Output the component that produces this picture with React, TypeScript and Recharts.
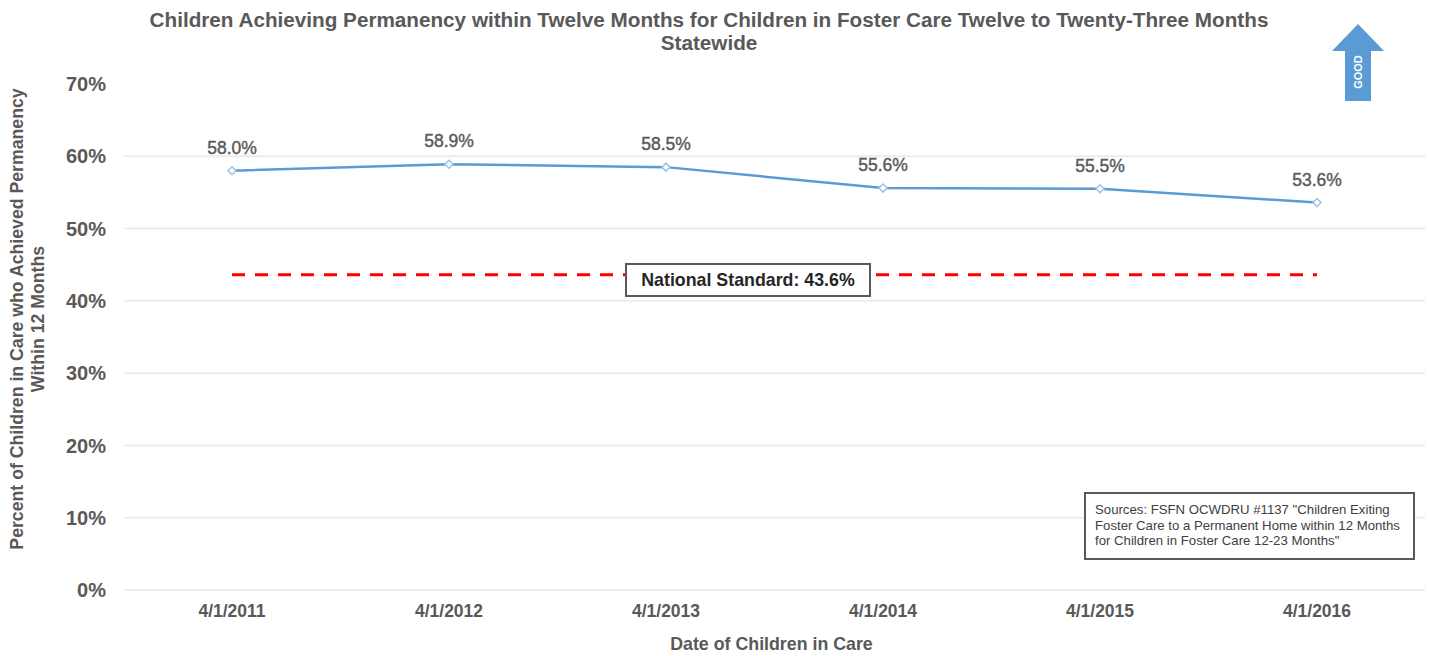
import { LineChart, Line, XAxis, YAxis, CartesianGrid, LabelList } from 'recharts';

const dates = ['4/1/2011', '4/1/2012', '4/1/2013', '4/1/2014', '4/1/2015', '4/1/2016'];
const permanency = [58.0, 58.9, 58.5, 55.6, 55.5, 53.6];
const nationalStandard = [43.6, 43.6, 43.6, 43.6, 43.6, 43.6];
const yTicks = [0, 10, 20, 30, 40, 50, 60, 70];
const gridLines = [0, 10, 20, 30, 40, 50, 60];

const chartData = dates.map((date, i) => ({
  date,
  permanency: permanency[i],
  standard: nationalStandard[i],
}));

const FONT = '"Liberation Sans", Arial, sans-serif';
const GRAY = '#595959';

// small hollow diamond used by the blue line
function Diamond({ cx, cy }: any) {
  const r = 4;
  return (
    <path
      d={`M${cx},${cy - r}L${cx + r},${cy}L${cx},${cy + r}L${cx - r},${cy}Z`}
      fill="#ffffff"
      stroke="#9dc3e6"
      strokeWidth={1.5}
    />
  );
}

export default function App() {
  return (
    <div style={{ position: 'absolute', left: 0, top: 0, width: 1429, height: 656, background: '#fff', fontFamily: FONT, overflow: 'hidden' }}>
      <LineChart
        width={1429}
        height={656}
        data={chartData}
        margin={{ top: 84, right: 4, bottom: 0, left: 0 }}
      >
        <CartesianGrid stroke="#ececec" strokeWidth={2} vertical={false} horizontalValues={gridLines} />
        <XAxis
          dataKey="date"
          height={66}
          padding={{ left: 108, right: 108 }}
          axisLine={false}
          tickLine={false}
          tickSize={0}
          tickMargin={15}
          tick={{ fill: GRAY, fontSize: 17.5, fontWeight: 700, fontFamily: FONT }}
          label={{ value: 'Date of Children in Care', position: 'insideBottom', offset: 6, dx: -3, fill: GRAY, fontSize: 17.8, fontWeight: 700, fontFamily: FONT }}
        />
        <YAxis
          width={124}
          domain={[0, 70]}
          ticks={yTicks}
          axisLine={false}
          tickLine={false}
          tickSize={0}
          tickMargin={18}
          tickFormatter={(v) => `${v}%`}
          tick={{ fill: GRAY, fontSize: 20, fontWeight: 700, fontFamily: FONT }}
        />
        <Line
          dataKey="standard"
          stroke="#ff0000"
          strokeWidth={3}
          strokeDasharray="13 10"
          dot={false}
          activeDot={false}
          isAnimationActive={false}
        />
        <Line
          dataKey="permanency"
          stroke="#5b9bd5"
          strokeWidth={2.5}
          dot={<Diamond />}
          activeDot={false}
          isAnimationActive={false}
        >
          <LabelList
            dataKey="permanency"
            position="top"
            offset={17}
            formatter={(v: any) => `${Number(v).toFixed(1)}%`}
            style={{ fill: GRAY, fontSize: 17.5, fontWeight: 400, stroke: GRAY, strokeWidth: 0.4, fontFamily: FONT }}
          />
        </Line>
      </LineChart>

      {/* title */}
      <div style={{ position: 'absolute', left: 0, top: 8, width: 1418, textAlign: 'center', color: GRAY, fontSize: 20.7, fontWeight: 700, lineHeight: '23px', whiteSpace: 'nowrap' }}>
        Children Achieving Permanency within Twelve Months for Children in Foster Care Twelve to Twenty-Three Months
        <br />
        Statewide
      </div>

      {/* y axis title, two lines */}
      <svg width={60} height={656} style={{ position: 'absolute', left: 0, top: 0 }}>
        <text transform="translate(23,319) rotate(-90)" textAnchor="middle" fill={GRAY} fontSize={17.7} fontWeight={700} fontFamily={FONT}>
          Percent of Children in Care who Achieved Permanency
        </text>
        <text transform="translate(44,319) rotate(-90)" textAnchor="middle" fill={GRAY} fontSize={17.7} fontWeight={700} fontFamily={FONT}>
          Within 12 Months
        </text>
      </svg>

      {/* good arrow */}
      <svg width={60} height={90} style={{ position: 'absolute', left: 1328, top: 20 }}>
        <path d="M30,4L56,31L43,31L43,81L17,81L17,31L4,31Z" fill="#5b9bd5" />
        <text transform="translate(30,52) rotate(-90)" textAnchor="middle" dominantBaseline="central" fill="#ffffff" fontSize={11} fontWeight={700} fontFamily={FONT}>
          GOOD
        </text>
      </svg>

      {/* national standard box */}
      <div style={{ position: 'absolute', left: 625, top: 263, width: 246, height: 34, boxSizing: 'border-box', border: '2px solid #595959', background: '#fff', color: '#262626', fontSize: 17.8, fontWeight: 700, textAlign: 'center', lineHeight: '30px', whiteSpace: 'nowrap' }}>
        National Standard: 43.6%
      </div>

      {/* sources box */}
      <div style={{ position: 'absolute', left: 1084, top: 492, width: 331, height: 68, boxSizing: 'border-box', border: '2px solid #595959', background: '#fff', color: '#404040', fontSize: 13.2, lineHeight: '15.5px', padding: '8px 0 0 9px', whiteSpace: 'nowrap' }}>
        Sources: FSFN OCWDRU #1137 "Children Exiting
        <br />
        Foster Care to a Permanent Home within 12 Months
        <br />
        for Children in Foster Care 12-23 Months"
      </div>
    </div>
  );
}
